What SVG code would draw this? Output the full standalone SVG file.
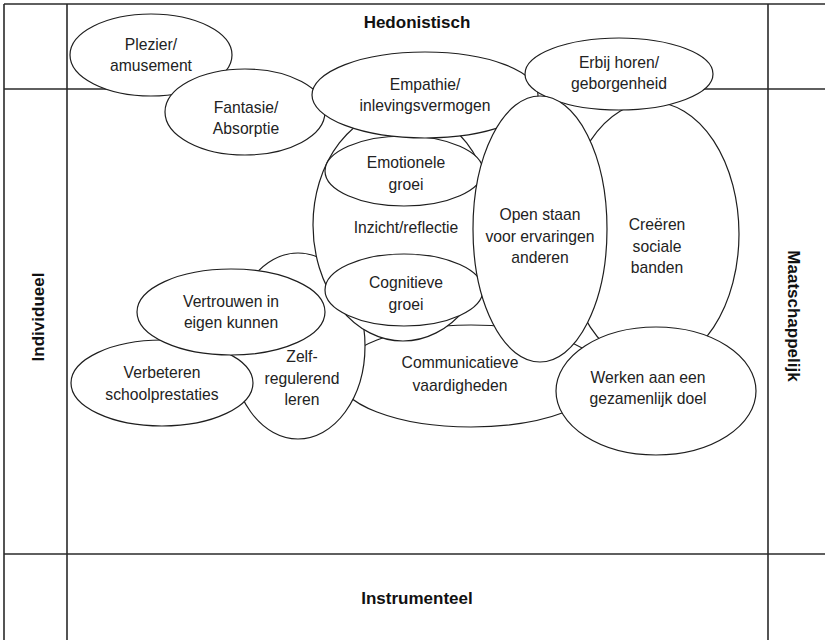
<svg xmlns="http://www.w3.org/2000/svg" width="825" height="640" viewBox="0 0 825 640">
<style>
.grid{stroke:#2a2a2a;stroke-width:1.6;fill:none}
.node ellipse{fill:#fff;stroke:#1e1e1e;stroke-width:1.2}
.lbl{font-family:"Liberation Sans",Arial,sans-serif;font-size:15.7px;fill:#222;text-anchor:middle}
.axis{font-family:"Liberation Sans",Arial,sans-serif;font-size:17px;font-weight:bold;fill:#111;text-anchor:middle}
</style>
<rect width="825" height="640" fill="#fff"/>
<g id="grid">
<line class="grid" x1="4" y1="4" x2="825" y2="4"/>
<line class="grid" x1="4" y1="89" x2="825" y2="89"/>
<line class="grid" x1="4" y1="554" x2="825" y2="554"/>
<line class="grid" x1="4" y1="4" x2="4" y2="640"/>
<line class="grid" x1="67" y1="4" x2="67" y2="640"/>
<line class="grid" x1="768" y1="4" x2="768" y2="640"/>
</g>
<g id="axes">
<text class="axis" x="417" y="28">Hedonistisch</text>
<text class="axis" x="417" y="604">Instrumenteel</text>
<text class="axis" transform="translate(44,317) rotate(-90)">Individueel</text>
<text class="axis" transform="translate(788,316) rotate(90)">Maatschappelijk</text>
</g>
<g id="connectors"></g>
<g id="plezier" class="node"><ellipse cx="151" cy="55" rx="81" ry="41"/><text class="lbl" x="151" y="50">Plezier/<tspan x="151" dy="21">amusement</tspan></text></g>
<g id="fantasie" class="node"><ellipse cx="245" cy="112" rx="80" ry="43"/><text class="lbl" x="246" y="113">Fantasie/<tspan x="246" dy="21">Absorptie</tspan></text></g>
<g id="creeren" class="node"><ellipse cx="652" cy="234" rx="87" ry="132"/><text class="lbl" x="657" y="230">Creëren<tspan x="657" dy="21.5">sociale</tspan><tspan x="657" dy="21.5">banden</tspan></text></g>
<g id="communicatieve" class="node"><ellipse cx="471" cy="376" rx="133" ry="51"/><text class="lbl" x="460" y="368">Communicatieve<tspan x="460" dy="23">vaardigheden</tspan></text></g>
<g id="zelf" class="node"><ellipse cx="298" cy="346" rx="67" ry="93"/><text class="lbl" x="302" y="362">Zelf-<tspan x="302" dy="21.5">regulerend</tspan><tspan x="302" dy="21.5">leren</tspan></text></g>
<g id="verbeteren" class="node"><ellipse cx="162" cy="383" rx="91" ry="43"/><text class="lbl" x="162" y="378">Verbeteren<tspan x="162" dy="22">schoolprestaties</tspan></text></g>
<g id="vertrouwen" class="node"><ellipse cx="231" cy="312" rx="94" ry="43"/><text class="lbl" x="231" y="307">Vertrouwen in<tspan x="231" dy="21">eigen kunnen</tspan></text></g>
<g id="inzicht" class="node"><ellipse cx="403" cy="225" rx="90" ry="116"/><text class="lbl" x="406" y="233">Inzicht/reflectie</text></g>
<g id="emotionele" class="node"><ellipse cx="404" cy="171" rx="79" ry="35"/><text class="lbl" x="406" y="168">Emotionele<tspan x="406" dy="22">groei</tspan></text></g>
<g id="cognitieve" class="node"><ellipse cx="404" cy="290" rx="79" ry="36"/><text class="lbl" x="406" y="288">Cognitieve<tspan x="406" dy="21.5">groei</tspan></text></g>
<g id="empathie" class="node"><ellipse cx="425" cy="95" rx="113" ry="43"/><text class="lbl" x="425" y="90">Empathie/<tspan x="425" dy="21">inlevingsvermogen</tspan></text></g>
<g id="werken" class="node"><ellipse cx="656" cy="391" rx="100" ry="64"/><text class="lbl" x="648" y="383">Werken aan een<tspan x="648" dy="21">gezamenlijk doel</tspan></text></g>
<g id="erbij" class="node"><ellipse cx="619" cy="74" rx="94" ry="36"/><text class="lbl" x="619" y="68">Erbij horen/<tspan x="619" dy="21">geborgenheid</tspan></text></g>
<g id="openstaan" class="node"><ellipse cx="540" cy="229" rx="67" ry="133"/><text class="lbl" x="540" y="220">Open staan<tspan x="540" dy="21.5">voor ervaringen</tspan><tspan x="540" dy="21.5">anderen</tspan></text></g>
</svg>
